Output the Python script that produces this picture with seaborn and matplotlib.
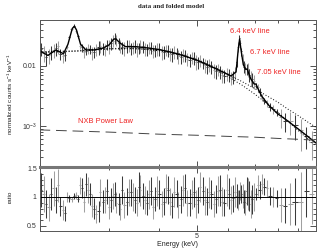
import numpy as np
import pandas as pd
import matplotlib
matplotlib.use("Agg")
import matplotlib.pyplot as plt
import seaborn as sns
from matplotlib.ticker import FixedLocator, FixedFormatter, NullFormatter, MultipleLocator

# detector A (dark bars)
energy_a = [2.02, 2.08, 2.14, 2.20, 2.26, 2.32, 2.38, 2.44, 2.50, 2.56, 2.62, 2.68, 2.75, 2.82, 2.89,
            2.96, 3.03, 3.10, 3.17, 3.24, 3.32, 3.40, 3.48, 3.56, 3.65, 3.74, 3.83, 3.92, 4.02, 4.12,
            4.22, 4.33, 4.44, 4.55, 4.67, 4.79, 4.91, 5.04, 5.17, 5.30, 5.44, 5.58, 5.72, 5.87, 6.02,
            6.17, 6.30, 6.40, 6.48, 6.58, 6.68, 6.78, 6.90, 7.04, 7.20, 7.40, 7.65, 7.95, 8.35, 8.85, 9.45]
counts_a = [0.0195, 0.0140, 0.0168, 0.0196, 0.0158, 0.0150, 0.0300, 0.0470, 0.0315, 0.0205, 0.0178,
            0.0192, 0.0172, 0.0205, 0.0198, 0.0228, 0.0240, 0.0292, 0.0238, 0.0205, 0.0218, 0.0196,
            0.0215, 0.0200, 0.0212, 0.0190, 0.0203, 0.0182, 0.0192, 0.0172, 0.0180, 0.0158, 0.0165,
            0.0143, 0.0150, 0.0128, 0.0136, 0.0115, 0.0113, 0.0098, 0.0096, 0.0082, 0.0080, 0.0069,
            0.0071, 0.0066, 0.0118, 0.0290, 0.0175, 0.0098, 0.0090, 0.0072, 0.0060, 0.0047, 0.0037,
            0.0026, 0.0021, 0.0017, 0.0012, 0.00105, 0.00068]
ratio_a = [1.12, 0.88, 1.05, 0.95, 0.84, 0.72, 0.98, 1.02, 0.97, 1.15, 1.22, 1.05, 0.80, 0.75, 0.92,
           1.10, 0.95, 1.05, 0.88, 1.12, 0.92, 1.08, 0.95, 1.18, 1.02, 0.90, 1.10, 0.96, 1.05, 0.92,
           1.12, 0.85, 1.06, 0.96, 1.15, 0.90, 1.08, 0.95, 1.10, 0.92, 1.05, 0.96, 1.12, 0.90, 1.06,
           0.98, 1.02, 1.00, 1.05, 0.92, 1.10, 1.02, 0.96, 1.05, 1.12, 1.18, 1.02, 0.98, 0.85, 0.92, 1.10]
relerr_a = [0.26, 0.28, 0.26, 0.24, 0.20, 0.18, 0.06, 0.05, 0.06, 0.15, 0.16, 0.18, 0.22, 0.25, 0.22,
            0.20, 0.22, 0.20, 0.22, 0.22, 0.25, 0.22, 0.24, 0.22, 0.22, 0.24, 0.22, 0.22, 0.24, 0.25,
            0.22, 0.25, 0.22, 0.24, 0.22, 0.26, 0.24, 0.24, 0.22, 0.26, 0.24, 0.25, 0.24, 0.26, 0.25,
            0.24, 0.20, 0.12, 0.15, 0.22, 0.22, 0.25, 0.26, 0.10, 0.14, 0.12, 0.15, 0.15, 0.35, 0.45, 0.40]

# detector B (light bars)
energy_b = [2.05, 2.11, 2.17, 2.23, 2.29, 2.35, 2.41, 2.47, 2.53, 2.59, 2.65, 2.71, 2.78, 2.85, 2.92,
            2.99, 3.06, 3.13, 3.20, 3.28, 3.36, 3.44, 3.52, 3.60, 3.69, 3.78, 3.87, 3.97, 4.07, 4.17,
            4.27, 4.38, 4.49, 4.61, 4.73, 4.85, 4.97, 5.10, 5.23, 5.37, 5.51, 5.65, 5.80, 5.95, 6.10,
            6.24, 6.35, 6.44, 6.53, 6.63, 6.73, 6.84, 6.97, 7.12, 7.30, 7.52, 7.80, 8.15, 8.60, 9.15, 9.75]
counts_b = [0.0165, 0.0150, 0.0182, 0.0212, 0.0145, 0.0205, 0.0420, 0.0380, 0.0218, 0.0172, 0.0196,
            0.0168, 0.0190, 0.0212, 0.0190, 0.0215, 0.0265, 0.0270, 0.0220, 0.0198, 0.0222, 0.0205,
            0.0192, 0.0218, 0.0195, 0.0205, 0.0178, 0.0196, 0.0170, 0.0185, 0.0160, 0.0172, 0.0148,
            0.0156, 0.0132, 0.0140, 0.0118, 0.0124, 0.0102, 0.0105, 0.0085, 0.0088, 0.0070, 0.0075,
            0.0064, 0.0078, 0.0210, 0.0240, 0.0130, 0.0092, 0.0088, 0.0064, 0.0056, 0.0044, 0.0030,
            0.0024, 0.0019, 0.0014, 0.0012, 0.00085, 0.00055]
ratio_b = [1.05, 0.82, 1.15, 1.20, 0.78, 1.00, 0.96, 1.03, 1.20, 0.92, 1.12, 0.85, 0.70, 1.08, 0.94,
           0.82, 1.02, 0.90, 0.80, 0.86, 1.08, 1.00, 0.90, 1.12, 0.95, 1.05, 0.82, 1.10, 0.88, 1.15,
           0.92, 1.08, 0.86, 1.12, 0.90, 1.05, 0.88, 1.18, 0.94, 1.08, 0.88, 1.10, 0.92, 1.12, 0.95,
           1.08, 0.95, 1.10, 1.02, 0.90, 1.05, 0.88, 1.00, 1.20, 1.22, 1.15, 1.00, 0.86, 0.88, 0.92, 1.05]
relerr_b = [0.30, 0.28, 0.26, 0.24, 0.22, 0.08, 0.05, 0.06, 0.12, 0.20, 0.20, 0.24, 0.22, 0.22, 0.24,
            0.25, 0.22, 0.20, 0.24, 0.26, 0.22, 0.24, 0.26, 0.24, 0.25, 0.24, 0.25, 0.24, 0.26, 0.22,
            0.25, 0.24, 0.26, 0.24, 0.25, 0.24, 0.28, 0.22, 0.26, 0.25, 0.26, 0.24, 0.27, 0.25, 0.26,
            0.24, 0.18, 0.14, 0.20, 0.24, 0.26, 0.28, 0.25, 0.15, 0.14, 0.13, 0.18, 0.35, 0.42, 0.55, 0.50]

# folded model
model_e = [2.0, 2.1, 2.2, 2.3, 2.36, 2.42, 2.45, 2.48, 2.54, 2.62, 2.75, 2.9, 3.0, 3.08, 3.12, 3.2,
           3.3, 3.5, 3.75, 4.0, 4.3, 4.6, 5.0, 5.4, 5.8, 6.1, 6.28, 6.36, 6.41, 6.46, 6.55, 6.64, 6.70,
           6.76, 6.85, 6.98, 7.05, 7.12, 7.3, 7.6, 8.0, 8.5, 9.0, 9.5, 10.0]
model_flux = [0.0180, 0.0150, 0.0185, 0.0160, 0.0230, 0.0420, 0.0460, 0.0400, 0.0230, 0.0185, 0.0185,
              0.0200, 0.0225, 0.0280, 0.0282, 0.0240, 0.0210, 0.0210, 0.0200, 0.0188, 0.0170, 0.0150,
              0.0125, 0.0100, 0.0080, 0.0068, 0.0080, 0.0190, 0.0280, 0.0190, 0.0105, 0.0088, 0.0089,
              0.0075, 0.0060, 0.0050, 0.0050, 0.0043, 0.0031, 0.0022, 0.0016, 0.0012, 0.00090, 0.00068,
              0.00052]

# continuum components (dotted)
cont_e = [2.0, 2.5, 3.0, 3.5, 4.0, 4.5, 5.0, 5.5, 6.0, 6.5, 7.0, 7.5, 8.0, 8.5, 9.0, 9.5, 10.0]
cont_a = [0.0172, 0.0180, 0.0196, 0.0198, 0.0185, 0.0160, 0.0128, 0.0098, 0.0072, 0.0055, 0.0042,
          0.0032, 0.0025, 0.0019, 0.00150, 0.00118, 0.00095]
cont_b = [0.0168, 0.0176, 0.0192, 0.0194, 0.0180, 0.0155, 0.0122, 0.0092, 0.0066, 0.0048, 0.0034,
          0.0024, 0.0017, 0.0012, 0.00085, 0.00062, 0.00046]

# NXB power law (dashed)
nxb_e = [2, 3, 4, 5, 6, 7, 8, 9, 10]
nxb_flux = [8.6e-4, 7.9e-4, 7.3e-4, 7.0e-4, 6.7e-4, 6.5e-4, 6.2e-4, 6.0e-4, 5.8e-4]

sns.set_theme(style="ticks")
plt.rcParams['font.family'] = ['Liberation Sans', 'DejaVu Sans']
plt.rcParams['mathtext.default'] = 'regular'

W, H = 317, 249
fig = plt.figure(figsize=(W / 100, H / 100), dpi=100)
x0, x1 = 39.5, 316
ax = fig.add_axes([x0 / W, 1 - 167 / H, (x1 - x0) / W, (167 - 20.5) / H])
axr = fig.add_axes([x0 / W, 1 - 231 / H, (x1 - x0) / W, (231 - 167) / H])

for a in (ax, axr):
    a.set_xscale('log')
    a.set_xlim(2, 10)
ax.set_yscale('log')
ax.set_ylim(2.07e-4, 0.0573)
axr.set_ylim(0.41, 1.52)

colors = {'A': '#3a3a3a', 'B': '#a0a0a0'}
series = [('B', energy_b, counts_b, ratio_b, relerr_b), ('A', energy_a, counts_a, ratio_a, relerr_a)]
for name, e, c, r, rel in series:
    e = np.array(e); c = np.array(c); r = np.array(r); rel = np.array(rel)
    xerr = np.gradient(e) / 4
    ax.errorbar(e, c, yerr=c * rel, xerr=xerr, fmt='none', ecolor=colors[name], elinewidth=0.75)
    axr.errorbar(e, r, yerr=r * rel, xerr=xerr, fmt='none', ecolor=colors[name], elinewidth=0.75)

sns.lineplot(x=cont_e, y=cont_a, ax=ax, color='black', lw=0.7, ls=(0, (1, 2)), estimator=None)
sns.lineplot(x=cont_e, y=cont_b, ax=ax, color='black', lw=0.7, ls=(0, (1, 2)), estimator=None)
sns.lineplot(x=model_e, y=model_flux, ax=ax, color='black', lw=1.0, estimator=None)
sns.lineplot(x=nxb_e, y=nxb_flux, ax=ax, color='#444444', lw=0.7, ls=(0, (11, 6)), estimator=None)
axr.axhline(1, color='black', lw=0.7)

red = '#ee2222'
ax.text(6.06, 0.0369, '6.4 keV line', color=red, fontsize=5.4, va='center')
ax.text(6.81, 0.0171, '6.7 keV line', color=red, fontsize=5.4, va='center')
ax.text(7.09, 0.00764, '7.05 keV line', color=red, fontsize=5.4, va='center')
ax.text(2.50, 1.17e-3, 'NXB Power Law', color=red, fontsize=5.4, va='center')

# ticks
for a in (ax, axr):
    a.xaxis.set_major_locator(FixedLocator([5]))
    a.xaxis.set_minor_locator(FixedLocator([2, 3, 4, 6, 7, 8, 9]))
    a.xaxis.set_minor_formatter(NullFormatter())
    a.tick_params(which='both', direction='in', top=True, right=True, width=0.6,
                  labelsize=5, colors='#333333', pad=2)
    a.tick_params(which='major', length=4)
    a.tick_params(which='minor', length=2)
    for s in a.spines.values():
        s.set_linewidth(0.7)
        s.set_color('#555555')
ax.tick_params(labelbottom=False)
axr.xaxis.set_major_formatter(FixedFormatter(['5']))
axr.tick_params(axis='x', pad=1.5)

ax.yaxis.set_major_locator(FixedLocator([1e-3, 1e-2]))
ax.yaxis.set_major_formatter(FixedFormatter(['$10^{-3}$', '0.01']))
ax.yaxis.set_minor_locator(FixedLocator([k * 10.0 ** p for p in (-4, -3, -2) for k in range(2, 10)]))
ax.yaxis.set_minor_formatter(NullFormatter())

axr.yaxis.set_major_locator(FixedLocator([0.5, 1, 1.5]))
axr.yaxis.set_major_formatter(FixedFormatter(['0.5', '1', '1.5']))
axr.yaxis.set_minor_locator(MultipleLocator(0.1))
axr.spines['top'].set_linewidth(2.2)
axr.spines['top'].set_color('#777777')

axr.set_xlabel('Energy (keV)', fontsize=5, labelpad=1, color='#222222')
fig.text(10 / W, 1 - 94 / H, 'normalized counts s$^{-1}$ keV$^{-1}$', rotation=90,
         ha='center', va='center', fontsize=4.6, color='#222222')
fig.text(10 / W, 1 - 197 / H, 'ratio', rotation=90, ha='center', va='center', fontsize=4.6,
         color='#222222')
fig.text(171 / W, 1 - 7 / H, 'data and folded model', ha='center', va='center', fontsize=5,
         fontweight='bold', family='Liberation Serif')

fig.savefig('out.png', dpi=100)
